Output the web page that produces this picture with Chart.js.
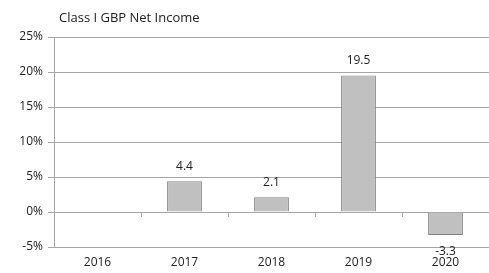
<!DOCTYPE html>
<html>
<head>
<meta charset="utf-8">
<script src="https://cdn.jsdelivr.net/npm/chart.js@4/dist/chart.umd.min.js"></script>
<style>
  html, body { margin: 0; padding: 0; background: #fff; }
  #wrap { width: 489px; height: 273px; position: relative; }
</style>
</head>
<body>
<div id="wrap"><canvas id="chart"></canvas></div>
<script>
const title = "Class I GBP Net Income";
const years = ["2016", "2017", "2018", "2019", "2020"];
const netIncome = [null, 4.4, 2.1, 19.5, -3.3];
const yMin = -5;
const yMax = 25;
const yStep = 5;

const font = { family: "'Open Sans', 'Liberation Sans', sans-serif", size: 12 };
const textColor = "#222";
const lineColor = "#a6a6a6";

// value labels above / below each bar, plus the title and zero-line ticks
const extras = {
  id: "extras",
  afterDatasetsDraw(chart) {
    const { ctx, scales } = chart;
    const x = scales.x;
    const y = scales.y;
    const zero = y.getPixelForValue(0);

    ctx.save();
    ctx.strokeStyle = lineColor;
    ctx.lineWidth = 1;
    for (let i = 1; i < years.length; i++) {
      const px = Math.round((x.getPixelForValue(i - 1) + x.getPixelForValue(i)) / 2) + 0.5;
      ctx.beginPath();
      ctx.moveTo(px, zero);
      ctx.lineTo(px, zero + 5);
      ctx.stroke();
    }

    ctx.font = `${font.size}px ${font.family}`;
    ctx.fillStyle = textColor;
    ctx.textAlign = "center";
    ctx.textBaseline = "middle";
    const meta = chart.getDatasetMeta(0);
    meta.data.forEach((bar, i) => {
      const v = netIncome[i];
      if (v === null) return;
      const py = v >= 0 ? bar.y - 15 : bar.y + 16;
      ctx.fillText(v.toFixed(1), bar.x, py);
    });

    ctx.font = `13px ${font.family}`;
    ctx.textAlign = "left";
    ctx.fillText(title, 59, 18);
    ctx.restore();
  },
};

new Chart(document.querySelector("#chart"), {
  type: "bar",
  data: {
    labels: years,
    datasets: [
      {
        label: title,
        data: netIncome,
        backgroundColor: "#c0c0c0",
        borderColor: "#808080",
        borderWidth: 1,
        barPercentage: 0.4,
        categoryPercentage: 1,
      },
    ],
  },
  options: {
    responsive: true,
    maintainAspectRatio: false,
    animation: false,
    layout: {
      padding: { top: 37, right: 0, bottom: 0, left: 0 },
    },
    plugins: {
      legend: { display: false },
      tooltip: { enabled: false },
    },
    scales: {
      x: {
        grid: { display: false, drawTicks: false },
        border: { display: false },
        ticks: { color: textColor, font, padding: 8, maxRotation: 0 },
        afterFit: (scale) => {
          scale.height = 26;
        },
      },
      y: {
        min: yMin,
        max: yMax,
        grid: {
          color: lineColor,
          tickLength: 6,
        },
        border: { color: lineColor },
        ticks: {
          stepSize: yStep,
          color: textColor,
          font,
          padding: 5,
          callback: (value) => `${value}%`,
        },
        afterFit: (scale) => {
          scale.width = 54;
        },
      },
    },
  },
  plugins: [extras],
});
</script>
</body>
</html>
